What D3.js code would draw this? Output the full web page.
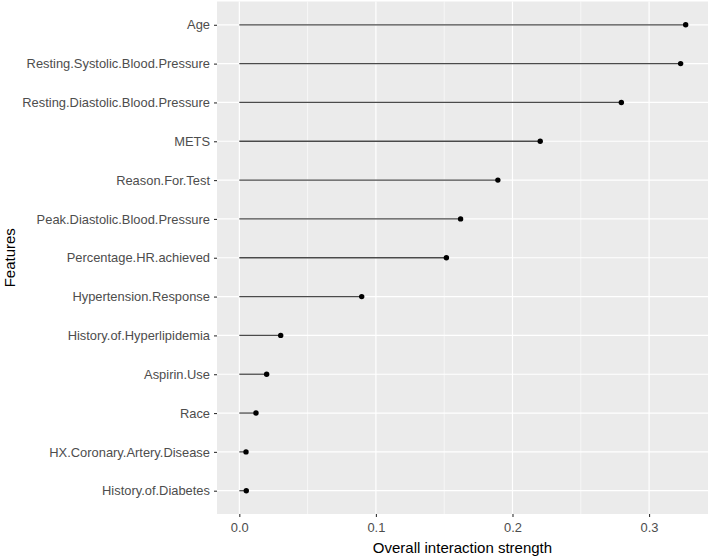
<!DOCTYPE html>
<html><head><meta charset="utf-8">
<script src="https://cdn.jsdelivr.net/npm/d3@7"></script>
<style>body{margin:0;background:#fff;} text{font-family:"Liberation Sans",Arial,sans-serif;}</style>
</head><body><svg id="c" width="709" height="558"></svg>
<script>
const features = ["Age","Resting.Systolic.Blood.Pressure","Resting.Diastolic.Blood.Pressure","METS","Reason.For.Test","Peak.Diastolic.Blood.Pressure","Percentage.HR.achieved","Hypertension.Response","History.of.Hyperlipidemia","Aspirin.Use","Race","HX.Coronary.Artery.Disease","History.of.Diabetes"];
const strength = [0.3268,0.3231,0.2797,0.2203,0.1893,0.1620,0.1516,0.0896,0.0303,0.0200,0.0122,0.0049,0.0051];
const xTicks = [0,0.1,0.2,0.3];
const xMinor = [0.05,0.15,0.25];

const svg = d3.select("#c");
const L = 217, R = 708, T = 1.5, B = 514;
const maxV = d3.max(strength);
const pad = maxV*0.05;
const x = d3.scaleLinear().domain([-pad, maxV+pad]).range([L, R]);
const n = features.length;
const step = (B - T)/(n - 1 + 1.2);
const y = d3.scalePoint().domain(features).range([T + 0.6*step, B - 0.6*step]);

svg.append("rect").attr("x",L).attr("y",T).attr("width",R-L).attr("height",B-T).attr("fill","#ebebeb");
const g = svg.append("g");
g.selectAll(".minor").data(xMinor).enter().append("line")
  .attr("x1",d=>x(d)).attr("x2",d=>x(d)).attr("y1",T).attr("y2",B)
  .attr("stroke","#fff").attr("stroke-width",0.6);
g.selectAll(".majx").data(xTicks).enter().append("line")
  .attr("x1",d=>x(d)).attr("x2",d=>x(d)).attr("y1",T).attr("y2",B)
  .attr("stroke","#fff").attr("stroke-width",1.2);
g.selectAll(".majy").data(features).enter().append("line")
  .attr("x1",L).attr("x2",R).attr("y1",d=>y(d)).attr("y2",d=>y(d))
  .attr("stroke","#fff").attr("stroke-width",1.2);

// segments
g.selectAll(".seg").data(features).enter().append("line")
  .attr("x1",x(0)).attr("x2",(d,i)=>x(strength[i]))
  .attr("y1",d=>y(d)).attr("y2",d=>y(d))
  .attr("stroke","#4a4a4a").attr("stroke-width",1.3);
g.selectAll(".pt").data(features).enter().append("circle")
  .attr("cx",(d,i)=>x(strength[i])).attr("cy",d=>y(d)).attr("r",2.7).attr("fill","#000");

// y axis
const yAx = svg.append("g").attr("transform",`translate(${L},0)`)
  .call(d3.axisLeft(y).tickSize(3).tickPadding(4));
yAx.select(".domain").remove();
yAx.selectAll(".tick line").attr("stroke","#333").attr("stroke-width",1.1);
yAx.selectAll(".tick text").attr("fill","#4d4d4d").style("font-size","12.9px");

// x axis
const xAx = svg.append("g").attr("transform",`translate(0,${B})`)
  .call(d3.axisBottom(x).tickValues(xTicks).tickFormat(d3.format(".1f")).tickSize(3).tickPadding(6));
xAx.select(".domain").remove();
xAx.selectAll(".tick line").attr("stroke","#333").attr("stroke-width",1.1);
xAx.selectAll(".tick text").attr("fill","#4d4d4d").style("font-size","12.9px");

svg.append("text").attr("x",(L+R)/2).attr("y",553).attr("text-anchor","middle")
  .style("font-size","15px").attr("fill","#000").text("Overall interaction strength");
svg.append("text").attr("transform",`translate(15,${(T+B)/2}) rotate(-90)`).attr("text-anchor","middle")
  .style("font-size","15px").attr("fill","#000").text("Features");
</script></body></html>
